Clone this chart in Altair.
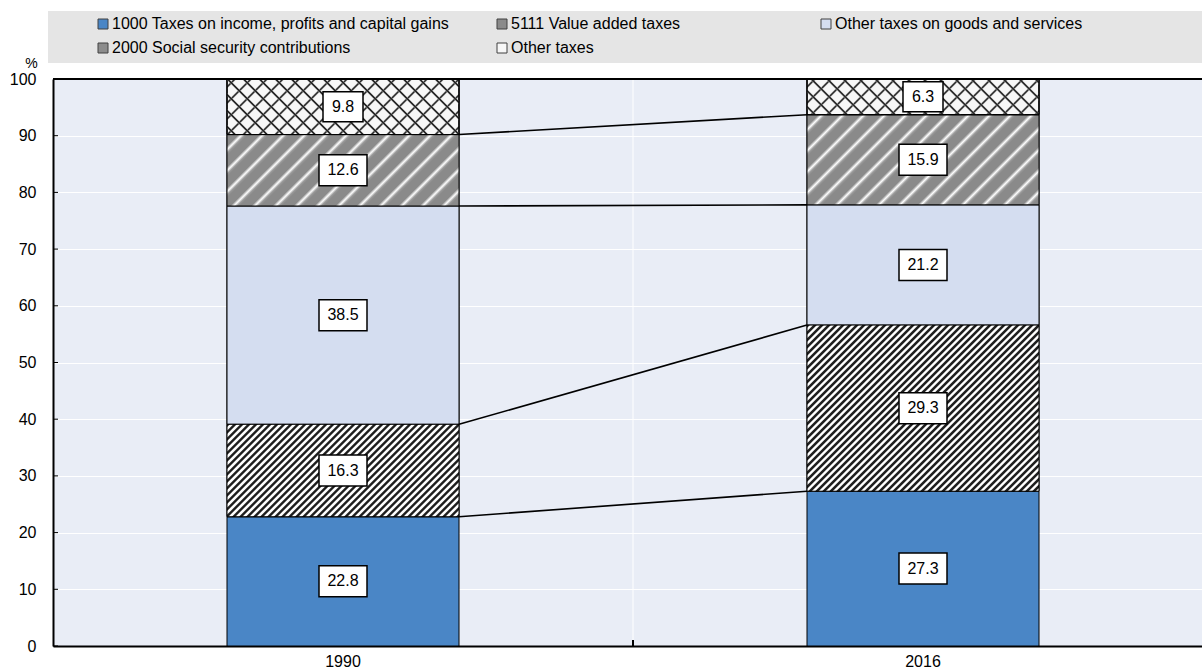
import math
import altair as alt
import pandas as pd

# ---------------- data ----------------
years = ["1990", "2016"]
categories = [
    "1000 Taxes on income, profits and capital gains",
    "5111 Value added taxes",
    "Other taxes on goods and services",
    "2000 Social security contributions",
    "Other taxes",
]
values_1990 = [22.8, 16.3, 38.5, 12.6, 9.8]
values_2016 = [27.3, 29.3, 21.2, 15.9, 6.3]
y_ticks = [0, 10, 20, 30, 40, 50, 60, 70, 80, 90, 100]

# ---------------- styling ----------------
FONT = "Liberation Sans"
PLOT_W = 1149
PLOT_H = 567
BAR_W = 232
PX_PER_UNIT = PLOT_H / 100.0
colors = ["#4a86c6", "#8a8a8a", "#d4ddf0", "#8c8c8c", "#f7f7f7"]

rows = []
for year, vals in zip(years, [values_1990, values_2016]):
    base = 0.0
    for i, (cat, v) in enumerate(zip(categories, vals)):
        rows.append(dict(year=year, category=cat, order=i, value=v,
                         y0=round(base, 3), y1=round(base + v, 3),
                         mid=round(base + v / 2, 3), label=f"{v:.1f}",
                         nchar=len(f"{v:.1f}")))
        base += v
df = pd.DataFrame(rows)

conn = []
c1 = c2 = 0.0
for i in range(len(categories) - 1):
    c1 += values_1990[i]
    c2 += values_2016[i]
    conn.append(dict(from_year=years[0], to_year=years[1], y_from=round(c1, 3), y_to=round(c2, 3)))
conn_df = pd.DataFrame(conn)
ticks_df = pd.DataFrame({"tick": y_ticks})

x_scale = alt.Scale(domain=years, range=[0, 1160], paddingInner=0.6, paddingOuter=0.3)
y_scale = alt.Scale(domain=[0, 100], nice=False)

x_axis = alt.Axis(labelAngle=0, ticks=False, labelPadding=7, domainColor="black", domainWidth=2,
                  labelFontSize=16, labelFont=FONT, labelColor="black", grid=False)
y_axis = alt.Axis(values=y_ticks, title="%", titleAngle=0, titleX=-22, titleY=-16,
                  titleAlign="center", titleBaseline="middle", titleFontSize=14,
                  titleFontWeight="normal", titleFont=FONT, titleColor="black",
                  labelFontSize=16, labelFont=FONT, labelColor="black", labelPadding=17,
                  ticks=False, domainColor="black", domainWidth=2, grid=True,
                  gridColor="white", gridWidth=1)

legend_common = dict(
    title=None, orient="none", legendY=-63, direction="horizontal",
    gridAlign="each", rowPadding=8, symbolType="square", symbolSize=100,
    symbolStrokeWidth=1, symbolStrokeColor="#404040", labelFontSize=16, labelFont=FONT,
    labelColor="black", labelOffset=1, padding=0, labelLimit=600,
)
legend_main = alt.Legend(
    legendX=42, columns=2, columnPadding=44,
    values=[categories[0], categories[1], categories[3], categories[4]],
    **legend_common,
)
legend_goods = alt.Legend(legendX=765, columns=1, **legend_common)


def stripes(W, H, P, pattern, direction):
    a = W * (W + H) / (W * W + H * H)
    n = (W + H) / P
    stops = []
    done = False
    for k in range(int(math.ceil(n)) + 1):
        for f, c in pattern:
            off = (k + f) / n
            if off >= 1:
                stops.append(alt.GradientStop(offset=1, color=c))
                done = True
                break
            stops.append(alt.GradientStop(offset=round(off, 5), color=c))
        if done:
            break
    if direction == "/":
        x1, y1, x2, y2 = 0, 0, a, a * H / W
    else:
        x1, y1, x2, y2 = 0, 1, a, 1 - a * H / W
    return alt.LinearGradient(gradient="linear", stops=stops, x1=x1, y1=y1,
                              x2=round(x2, 5), y2=round(y2, 5))


VAT_PAT = [(0.0, "#1e1e1e"), (0.3, "#1e1e1e"), (0.5, "#ffffff"), (0.8, "#ffffff"), (1.0, "#1e1e1e")]
SSC_PAT = [(0.0, "#8a8a8a"), (0.55, "#8a8a8a"), (0.72, "#ffffff"), (0.88, "#9a9a9a"), (1.0, "#8a8a8a")]
TR = "rgba(255,255,255,0)"
HATCH_PAT = [(0.0, TR), (0.34, TR), (0.46, "#2a2a2a"), (0.54, "#2a2a2a"), (0.66, TR), (1.0, TR)]

enc_x = alt.X("year:N", scale=x_scale, sort=years, axis=x_axis, title=None)

base = alt.Chart(df).mark_bar(stroke="black", strokeWidth=1).encode(
    x=enc_x,
    y=alt.Y("y0:Q", scale=y_scale, axis=y_axis),
    y2="y1:Q",
    color=alt.Color("category:N", scale=alt.Scale(domain=categories, range=colors), legend=legend_main),
)

goods = alt.Chart(df[df.category == categories[2]]).mark_bar(stroke="black", strokeWidth=1).encode(
    x=alt.X("year:N", scale=x_scale, sort=years),
    y=alt.Y("y0:Q", scale=y_scale),
    y2="y1:Q",
    fill=alt.Fill("category:N", scale=alt.Scale(domain=[categories[2]], range=[colors[2]]),
                  legend=legend_goods),
)

overlays = []
for _, r in df.iterrows():
    H = r["value"] * PX_PER_UNIT
    sub = df[(df.year == r["year"]) & (df.category == r["category"])]
    grads = []
    if r["category"].startswith("5111"):
        grads = [stripes(BAR_W, H, 7, VAT_PAT, "/")]
    elif r["category"].startswith("2000"):
        grads = [stripes(BAR_W, H, 21, SSC_PAT, "/")]
    elif r["category"] == "Other taxes":
        grads = [stripes(BAR_W, H, 16, HATCH_PAT, "/"), stripes(BAR_W, H, 16, HATCH_PAT, "\\")]
    for g in grads:
        overlays.append(
            alt.Chart(sub).mark_bar(fill=g, stroke="black", strokeWidth=1).encode(
                x=alt.X("year:N", scale=x_scale, sort=years),
                y=alt.Y("y0:Q", scale=y_scale),
                y2="y1:Q",
            )
        )

one = alt.Data(values=[{"a": 1}])
mid_grid = alt.Chart(one).mark_rule(color="white", strokeWidth=1).encode(
    x=alt.value(580), y=alt.value(0), y2=alt.value(PLOT_H))
mid_tick = alt.Chart(one).mark_rule(color="black", strokeWidth=2).encode(
    x=alt.value(580), y=alt.value(PLOT_H - 6), y2=alt.value(PLOT_H))
top_border = alt.Chart(one).mark_rule(color="black", strokeWidth=2).encode(
    x=alt.value(0), x2=alt.value(1160), y=alt.value(0))
legend_bg = alt.Chart(one).mark_rect(color="#e5e5e5").encode(
    x=alt.value(-5), x2=alt.value(PLOT_W), y=alt.value(-68), y2=alt.value(-16))

inner_ticks = alt.Chart(ticks_df).mark_rule(color="black", strokeWidth=1).encode(
    y=alt.Y("tick:Q", scale=y_scale), x=alt.value(0), x2=alt.value(5))

connectors = alt.Chart(conn_df).mark_rule(color="black", strokeWidth=1.6).encode(
    x=alt.X("from_year:N", scale=x_scale, sort=years, bandPosition=1),
    x2=alt.X2("to_year:N", bandPosition=0),
    y=alt.Y("y_from:Q", scale=y_scale),
    y2="y_to:Q",
)

box_long = alt.Chart(df).transform_filter("datum.nchar >= 4").mark_point(
    shape="M-1,-0.646L1,-0.646L1,0.646L-1,0.646Z", size=48 * 48, filled=True,
    fill="white", stroke="black", strokeWidth=1.5, opacity=1).encode(
    x=alt.X("year:N", scale=x_scale, sort=years), y=alt.Y("mid:Q", scale=y_scale))
box_short = alt.Chart(df).transform_filter("datum.nchar < 4").mark_point(
    shape="M-1,-0.75L1,-0.75L1,0.75L-1,0.75Z", size=40 * 40, filled=True,
    fill="white", stroke="black", strokeWidth=1.5, opacity=1).encode(
    x=alt.X("year:N", scale=x_scale, sort=years), y=alt.Y("mid:Q", scale=y_scale))
labels = alt.Chart(df).mark_text(font=FONT, fontSize=16, color="black", baseline="middle",
                                 align="center").encode(
    x=alt.X("year:N", scale=x_scale, sort=years), y=alt.Y("mid:Q", scale=y_scale),
    text="label:N")

chart = alt.layer(
    legend_bg, mid_grid, base, goods, *overlays, connectors, box_long, box_short, labels,
    inner_ticks, mid_tick, top_border,
).properties(
    width=PLOT_W, height=PLOT_H,
    padding={"left": 53, "top": 79, "right": 0, "bottom": 25},
    autosize=alt.AutoSizeParams(type="none"),
).configure(
    font=FONT,
    view=alt.ViewConfig(strokeWidth=0, fill="#e9edf6"),
    axis=alt.AxisConfig(labelFontSize=16, labelFont=FONT, labelColor="black"),
)

chart.save("out.html", embed_options={"renderer": "svg", "actions": False})
